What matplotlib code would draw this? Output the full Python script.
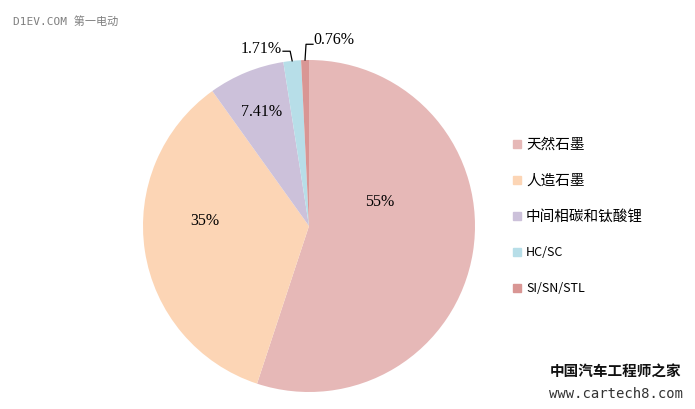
import matplotlib
matplotlib.use("Agg")
import matplotlib.pyplot as plt
import numpy as np

categories = ["天然石墨", "人造石墨", "中间相碳和钛酸锂", "HC/SC", "SI/SN/STL"]
values = [55, 35, 7.41, 1.71, 0.76]
labels = ["55%", "35%", "7.41%", "1.71%", "0.76%"]
colors = ["#E6B8B7", "#FCD5B5", "#CCC1DA", "#B7DEE8", "#D99694"]

W, H = 695, 410
fig = plt.figure(figsize=(W / 100, H / 100), dpi=100)
cx, cy, r = 309, 227, 166
ax = fig.add_axes([(cx - r) / W, (H - cy - r) / H, 2 * r / W, 2 * r / H])
wedges, _ = ax.pie(values, colors=colors, startangle=90, counterclock=False,
                   wedgeprops=dict(linewidth=0))
ax.set_xlim(-1, 1)
ax.set_ylim(-1, 1)
ax.set_aspect("equal")
ax.axis("off")

serif = ["Liberation Serif", "DejaVu Serif"]
inner_pos = [(0.428, 0.15), (-0.627, 0.036), (-0.283, 0.693)]
for (x, y), lab in zip(inner_pos, labels[:3]):
    ax.text(x, y, lab, ha="center", va="center", fontsize=11.5, family=serif, color="#000000")

def edge_point(w):
    th = np.deg2rad((w.theta1 + w.theta2) / 2)
    return np.cos(th), np.sin(th)

# 1.71% label with leader
px, py = edge_point(wedges[3])
elb = (px - 0.012, py + 0.058)
tx = (283 - cx) / r
ax.plot([px, elb[0], tx], [py, elb[1], elb[1]], color="black", lw=0.9, clip_on=False)
ax.text(tx - 0.01, elb[1] + 0.02, labels[3], ha="right", va="center", fontsize=11.5, family=serif)

# 0.76% label with leader
px, py = edge_point(wedges[4])
elb = (px + 0.006, py + 0.095)
tx = (313 - cx) / r
ax.plot([px, elb[0], tx], [py, elb[1], elb[1]], color="black", lw=0.9, clip_on=False)
ax.text(tx + 0.005, elb[1] + 0.03, labels[4], ha="left", va="center", fontsize=11.5, family=serif)

# legend
cjk = ["Noto Sans CJK SC", "DejaVu Sans"]
ys = [145, 181, 217, 253, 289]
for c, name, y in zip(colors, categories, ys):
    fig.patches.append(plt.Rectangle(((513) / W, (H - y - 4) / H), 8 / W, 8 / H,
                                     transform=fig.transFigure, color=c))
    fs = 10.5 if not name[0].isascii() else 9
    fig.text(526 / W, (H - y) / H, name, fontsize=fs, family=cjk, va="center", ha="left", color="#000000")

fig.text(13 / W, (H - 21) / H, "D1EV.COM 第一电动", fontsize=8, color="#7f7f7f",
         family=["DejaVu Sans Mono", "Noto Sans CJK SC"], va="center", ha="left")
fig.text(616 / W, (H - 372) / H, "中国汽车工程师之家", fontsize=10.5, color="#111111", weight="bold",
         family=cjk, va="center", ha="center")
fig.text(616 / W, (H - 394) / H, "www.cartech8.com", fontsize=10, color="#333333",
         family=["DejaVu Sans Mono"], va="center", ha="center")

fig.savefig("out.png", dpi=100, facecolor="white")
